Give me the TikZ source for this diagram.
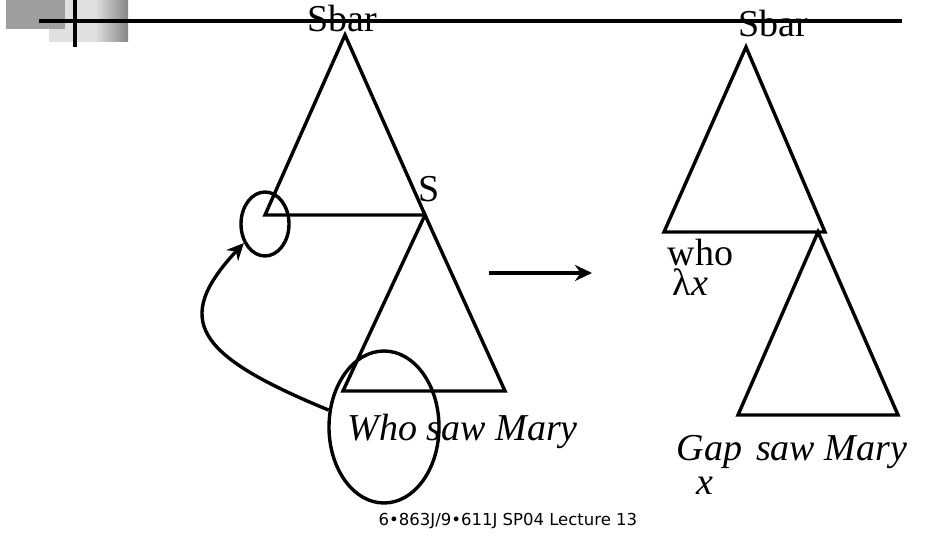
\documentclass[tikz,border=0pt]{standalone}
\usepackage{fontspec}
\setmainfont{Liberation Serif}
\newfontfamily\footfont{DejaVu Sans}
\usetikzlibrary{arrows.meta, shapes.geometric, positioning}

\begin{document}
\begin{tikzpicture}[x=1pt, y=-1pt, >={Stealth[length=17pt,width=16pt]}, line width=3.4pt,
    bigtext/.style={font=\fontsize{38}{42}\selectfont, inner sep=0pt, anchor=base west},
    ring/.style={draw, ellipse, line width=3.4pt, inner sep=0pt}]
    \useasboundingbox (0,0) rectangle (946,548);

    % Draw corner boxes
    \fill[black!12] (49,0) rectangle (95,42);
    \shade[left color=black!12, right color=black!48] (95,0) rectangle (128,42);
    \fill[black!38] (6,0) rectangle (65,29);
    % Draw header rule
    \draw[line width=3.4pt] (39,21) -- (902,21);
    \draw[line width=4pt] (75,0) -- (75,47);

    % Draw left trees
    \draw[line join=miter] (345,35) -- (425,215) -- (265,215) -- cycle;
    \draw[line join=miter] (425,215) -- (505,391) -- (343,391) -- cycle;
    % Draw right trees
    \draw[line join=miter] (746,47) -- (825,232) -- (664,232) -- cycle;
    \draw[line join=miter] (818,232) -- (898,415) -- (738,415) -- cycle;

    % Labels of the left trees
    \node[bigtext, anchor=base] (sbarleft) at (342,32) {Sbar};
    \node[bigtext] (sleft) at (417,202) {S};
    \node[bigtext] (whosaw) at (346,440) {\textit{Who saw Mary}};
    % Labels of the right trees
    \node[bigtext, anchor=base] (sbarright) at (773,37) {Sbar};
    \node[bigtext] (who) at (666,266) {who};
    \node[bigtext] (lambda) at (671,296) {λ\textit{x}};
    \node[bigtext] (gap) at (675,460) {\textit{Gap\hspace{14pt}saw Mary}};
    \node[bigtext] (gapvar) at (695,494) {\textit{x}};

    % Draw rings and the movement arrow
    \node[ring, minimum width=48pt, minimum height=64pt] (gapring) at (265,224) {};
    \node[ring, minimum width=110pt, minimum height=152pt] (wordring) at (384,427) {};
    \draw[->] (wordring.163) .. controls (195,355) and (172,320) .. (gapring.222);

    % Draw the rewrite arrow
    \coordinate (rewritefrom) at (489,273);
    \coordinate (rewriteto) at (592,273);
    \draw[->] (rewritefrom) -- (rewriteto);

    % Footer
    \node[font=\footfont\fontsize{16.5}{19}\selectfont, inner sep=0pt, anchor=base west] (footer) at (377,525) {6•863J/9•611J SP04 Lecture 13};
\end{tikzpicture}
\end{document}
